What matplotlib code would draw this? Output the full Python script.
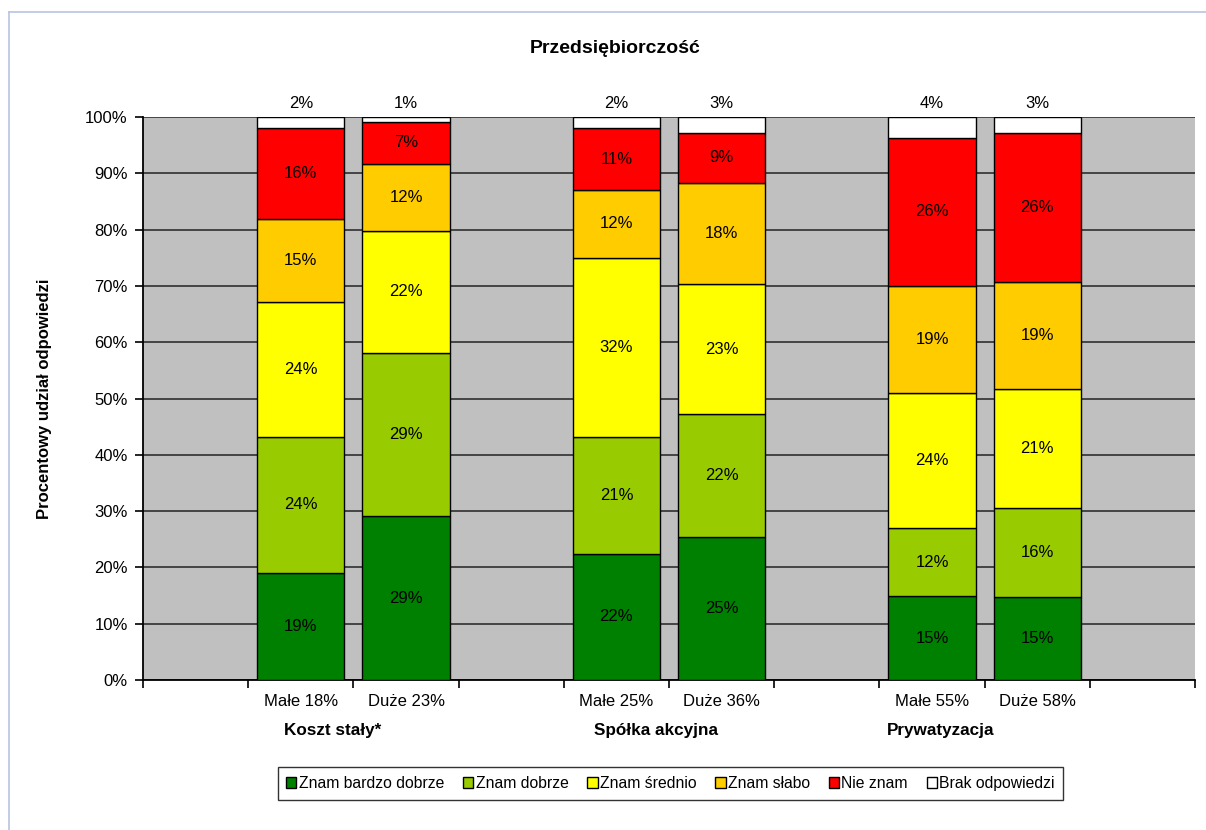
import matplotlib.pyplot as plt
from matplotlib.ticker import FixedLocator, PercentFormatter
from matplotlib.lines import Line2D

plt.rcParams['font.family'] = ['Liberation Sans', 'DejaVu Sans']

# groups and the two bars inside each group
groups = ["Koszt stały*", "Spółka akcyjna", "Prywatyzacja"]
bar_labels = ["Małe 18%", "Duże 23%", "Małe 25%", "Duże 36%", "Małe 55%", "Duże 58%"]

series_names = ["Znam bardzo dobrze", "Znam dobrze", "Znam średnio",
                "Znam słabo", "Nie znam", "Brak odpowiedzi"]
znam_bardzo_dobrze = [19.0, 29.1, 22.4, 25.4, 14.9, 14.7]
znam_dobrze = [24.2, 29.0, 20.8, 21.8, 12.1, 15.9]
znam_srednio = [23.9, 21.7, 31.8, 23.1, 24.0, 21.1]
znam_slabo = [14.8, 11.9, 12.0, 18.0, 19.0, 19.0]
nie_znam = [16.1, 7.4, 11.0, 8.9, 26.3, 26.4]
brak_odpowiedzi = [2.0, 0.9, 2.0, 2.8, 3.7, 2.9]

series = [znam_bardzo_dobrze, znam_dobrze, znam_srednio, znam_slabo, nie_znam, brak_odpowiedzi]
colors = ["#008000", "#99CC00", "#FFFF00", "#FFCC00", "#FF0000", "#FFFFFF"]

fig = plt.figure(figsize=(12.06, 8.3), dpi=100)
ax = fig.add_axes([0.1186, 0.1807, 0.8723, 0.6783])

# outer chart frame (light blue, as in the Excel export)
fig.add_artist(Line2D([0.0075, 0.0075], [0, 0.9855], color="#B8C4E4", lw=1.2))
fig.add_artist(Line2D([0.0075, 1.0], [0.9855, 0.9855], color="#B8C4E4", lw=1.2))

# 10 category slots: empty slot before/after/between each pair of bars
x = []
for g in range(len(groups)):
    x += [1 + 3 * g, 2 + 3 * g]

ax.set_facecolor("#C0C0C0")
bottom = [0.0] * len(x)
for vals, col, name in zip(series, colors, series_names):
    ax.bar(x, vals, width=0.83, bottom=bottom, color=col, edgecolor="black",
           linewidth=1.0, label=name, zorder=3)
    for xi, v, b in zip(x, vals, bottom):
        txt = f"{round(v)}%"
        if name == "Brak odpowiedzi":
            ax.annotate(txt, (xi, 100), xytext=(0, 4), textcoords="offset points",
                        ha="center", va="bottom", fontsize=12, annotation_clip=False)
        else:
            ax.text(xi, b + v / 2, txt, ha="center", va="center", fontsize=12, zorder=4)
    bottom = [b + v for b, v in zip(bottom, vals)]

ax.set_xlim(-0.5, 9.5)
ax.set_ylim(0, 100)
ax.yaxis.set_major_locator(FixedLocator(range(0, 101, 10)))
ax.yaxis.set_major_formatter(PercentFormatter(decimals=0))
ax.grid(axis="y", color="#3A3A3A", linewidth=1.3, zorder=1)

ax.set_xticks(x)
ax.set_xticklabels(bar_labels)
ax.xaxis.set_minor_locator(FixedLocator([i - 0.5 for i in range(11)]))
ax.tick_params(axis="x", which="major", length=0, pad=10, labelsize=12)
ax.tick_params(axis="x", which="minor", length=6, width=1.2, direction="out")
ax.tick_params(axis="y", length=6, width=1.2, labelsize=12, pad=5)

for s in ["top", "right"]:
    ax.spines[s].set_visible(False)
for s in ["left", "bottom"]:
    ax.spines[s].set_color("black")
    ax.spines[s].set_linewidth(1.3)

# group labels under the bar labels
group_x = [1.306, 4.377, 7.086]
for gx, g in zip(group_x, groups):
    ax.text(gx, -9.0, g, ha="center", va="center", fontsize=12.3, fontweight="bold")

fig.text(0.51, 0.942, "Przedsiębiorczość", ha="center", va="center",
         fontsize=14, fontweight="bold")
fig.text(0.037, 0.52, "Procentowy udział odpowiedzi", ha="center", va="center",
         rotation=90, fontsize=12, fontweight="bold")

leg = fig.legend(loc="center", bbox_to_anchor=(0.556, 0.056), ncol=6, fontsize=11.3,
                 frameon=True, fancybox=False, edgecolor="black",
                 handlelength=0.65, handleheight=0.65, handletextpad=0.15,
                 columnspacing=1.2, borderpad=0.55)
leg.get_frame().set_linewidth(1.0)

fig.savefig("out.png", dpi=100, facecolor="white")
